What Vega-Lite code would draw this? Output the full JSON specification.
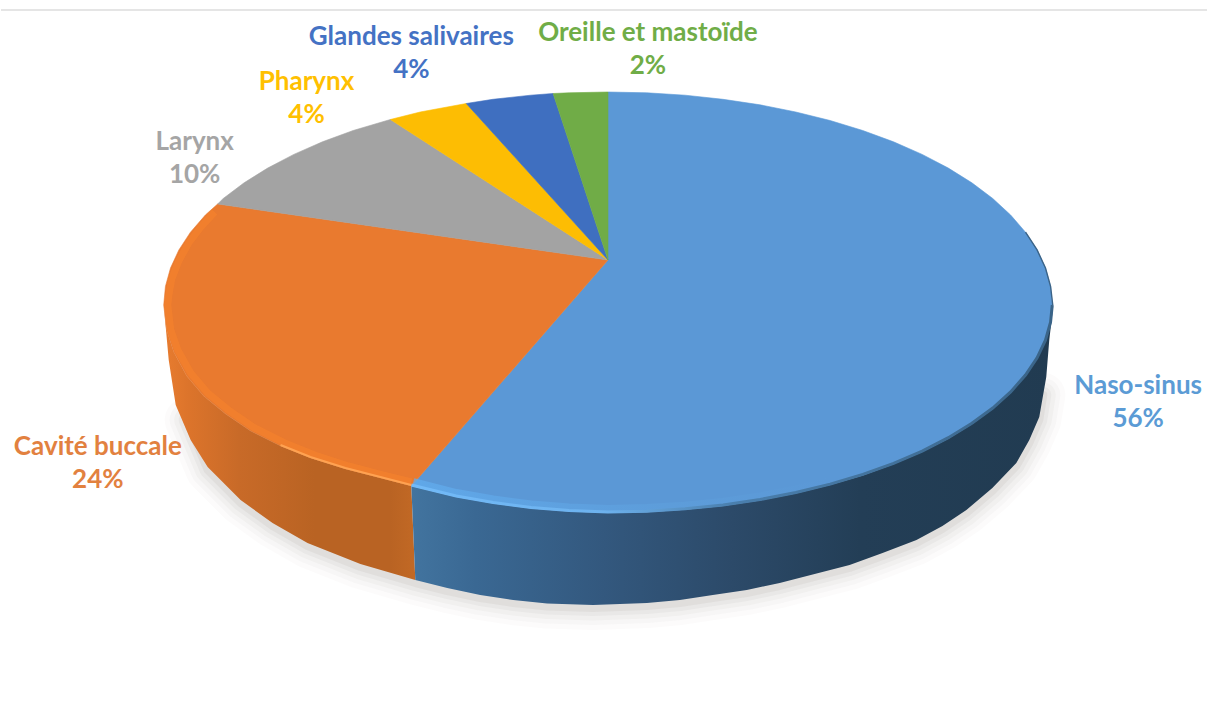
{
  "$schema": "https://vega.github.io/schema/vega-lite/v6.json",
  "width": 1208,
  "height": 706,
  "autosize": {"type": "fit", "contains": "padding"},
  "padding": 0,
  "background": "#ffffff",
  "view": {"stroke": null},
  "datasets": {
    "topFaces": [
      {"slice":"Naso-sinus","x":608,"y":260},{"slice":"Naso-sinus","x":608,"y":92},{"slice":"Naso-sinus","x":646.8,"y":92.8},{"slice":"Naso-sinus","x":685.3,"y":95.2},{"slice":"Naso-sinus","x":723.2,"y":99.3},{"slice":"Naso-sinus","x":760.2,"y":104.8},{"slice":"Naso-sinus","x":796.1,"y":112},{"slice":"Naso-sinus","x":830.5,"y":120.5},{"slice":"Naso-sinus","x":863.2,"y":130.5},{"slice":"Naso-sinus","x":894,"y":141.8},{"slice":"Naso-sinus","x":922.7,"y":154.4},{"slice":"Naso-sinus","x":948.9,"y":168.1},{"slice":"Naso-sinus","x":972.5,"y":182.8},{"slice":"Naso-sinus","x":993.4,"y":198.5},{"slice":"Naso-sinus","x":1011.3,"y":215},{"slice":"Naso-sinus","x":1026.2,"y":232.2},{"slice":"Naso-sinus","x":1037.8,"y":249.9},{"slice":"Naso-sinus","x":1046.2,"y":268},{"slice":"Naso-sinus","x":1051.3,"y":286.4},{"slice":"Naso-sinus","x":1053,"y":305},{"slice":"Naso-sinus","x":1051.3,"y":323.1},{"slice":"Naso-sinus","x":1046.2,"y":341.1},{"slice":"Naso-sinus","x":1037.8,"y":358.8},{"slice":"Naso-sinus","x":1026.2,"y":376.1},{"slice":"Naso-sinus","x":1011.3,"y":392.9},{"slice":"Naso-sinus","x":993.4,"y":409},{"slice":"Naso-sinus","x":972.5,"y":424.3},{"slice":"Naso-sinus","x":948.9,"y":438.7},{"slice":"Naso-sinus","x":922.7,"y":452.1},{"slice":"Naso-sinus","x":894,"y":464.3},{"slice":"Naso-sinus","x":863.2,"y":475.4},{"slice":"Naso-sinus","x":830.5,"y":485.1},{"slice":"Naso-sinus","x":796.1,"y":493.5},{"slice":"Naso-sinus","x":760.2,"y":500.5},{"slice":"Naso-sinus","x":723.2,"y":505.9},{"slice":"Naso-sinus","x":685.3,"y":509.8},{"slice":"Naso-sinus","x":646.8,"y":512.2},{"slice":"Naso-sinus","x":608,"y":513},{"slice":"Naso-sinus","x":569,"y":511.5},{"slice":"Naso-sinus","x":531,"y":508.5},{"slice":"Naso-sinus","x":493,"y":503.5},{"slice":"Naso-sinus","x":456,"y":497},{"slice":"Naso-sinus","x":411,"y":486},{"slice":"Naso-sinus","x":608,"y":260},
      {"slice":"Cavité buccale","x":608,"y":260},{"slice":"Cavité buccale","x":411,"y":486},{"slice":"Cavité buccale","x":380,"y":478},{"slice":"Cavité buccale","x":345,"y":469},{"slice":"Cavité buccale","x":310,"y":458},{"slice":"Cavité buccale","x":280,"y":446},{"slice":"Cavité buccale","x":250,"y":431},{"slice":"Cavité buccale","x":225,"y":414},{"slice":"Cavité buccale","x":203,"y":396},{"slice":"Cavité buccale","x":186,"y":376},{"slice":"Cavité buccale","x":173,"y":352},{"slice":"Cavité buccale","x":166,"y":330},{"slice":"Cavité buccale","x":163,"y":305},{"slice":"Cavité buccale","x":164.7,"y":286.4},{"slice":"Cavité buccale","x":169.8,"y":268},{"slice":"Cavité buccale","x":178.2,"y":249.9},{"slice":"Cavité buccale","x":189.8,"y":232.2},{"slice":"Cavité buccale","x":204.7,"y":215},{"slice":"Cavité buccale","x":217,"y":204},{"slice":"Cavité buccale","x":608,"y":260},
      {"slice":"Larynx","x":608,"y":260},{"slice":"Larynx","x":217,"y":204},{"slice":"Larynx","x":222.6,"y":198.5},{"slice":"Larynx","x":243.5,"y":182.8},{"slice":"Larynx","x":267.1,"y":168.1},{"slice":"Larynx","x":293.3,"y":154.4},{"slice":"Larynx","x":322,"y":141.8},{"slice":"Larynx","x":352.8,"y":130.5},{"slice":"Larynx","x":390,"y":119.5},{"slice":"Larynx","x":608,"y":260},
      {"slice":"Pharynx","x":608,"y":260},{"slice":"Pharynx","x":390,"y":119.5},{"slice":"Pharynx","x":419.9,"y":112},{"slice":"Pharynx","x":466,"y":103.5},{"slice":"Pharynx","x":608,"y":260},
      {"slice":"Glandes salivaires","x":608,"y":260},{"slice":"Glandes salivaires","x":466,"y":103.5},{"slice":"Glandes salivaires","x":492.8,"y":99.3},{"slice":"Glandes salivaires","x":530.7,"y":95.2},{"slice":"Glandes salivaires","x":553,"y":93.5},{"slice":"Glandes salivaires","x":608,"y":260},
      {"slice":"Oreille et mastoïde","x":608,"y":260},{"slice":"Oreille et mastoïde","x":553,"y":93.5},{"slice":"Oreille et mastoïde","x":569.2,"y":92.8},{"slice":"Oreille et mastoïde","x":608,"y":92},{"slice":"Oreille et mastoïde","x":608,"y":260}
    ],
    "blueWall": [
      {"x":411,"y":486},{"x":456,"y":497},{"x":493,"y":503.5},{"x":531,"y":508.5},{"x":569,"y":511.5},{"x":608,"y":513},{"x":646.8,"y":512.2},{"x":685.3,"y":509.8},{"x":723.2,"y":505.9},{"x":760.2,"y":500.5},{"x":796.1,"y":493.5},{"x":830.5,"y":485.1},{"x":863.2,"y":475.4},{"x":894,"y":464.3},{"x":922.7,"y":452.1},{"x":948.9,"y":438.7},{"x":972.5,"y":424.3},{"x":993.4,"y":409},{"x":1011.3,"y":392.9},{"x":1026.2,"y":376.1},{"x":1037.8,"y":358.8},{"x":1046.2,"y":341.1},{"x":1051.3,"y":323.1},{"x":1054,"y":306},
      {"x":1050,"y":340},{"x":1047,"y":377},{"x":1040,"y":417},{"x":1030,"y":440},{"x":1017,"y":463},{"x":993,"y":488},{"x":967,"y":510},{"x":943,"y":526},{"x":917,"y":540},{"x":883,"y":553},{"x":850,"y":565},{"x":815,"y":574},{"x":780,"y":583},{"x":747,"y":590},{"x":713,"y":595},{"x":680,"y":600},{"x":647,"y":603},{"x":593,"y":605},{"x":547,"y":603.5},{"x":513,"y":600},{"x":480,"y":595},{"x":447,"y":588},{"x":415,"y":580},{"x":411,"y":486}
    ],
    "orangeWall": [
      {"x":163,"y":305},{"x":166,"y":330},{"x":173,"y":352},{"x":186,"y":376},{"x":203,"y":396},{"x":225,"y":414},{"x":250,"y":431},{"x":280,"y":446},{"x":310,"y":458},{"x":345,"y":469},{"x":380,"y":478},{"x":411,"y":486},
      {"x":415,"y":580},{"x":360,"y":564},{"x":307,"y":543},{"x":272,"y":523},{"x":240,"y":500},{"x":207,"y":467},{"x":190,"y":440},{"x":175,"y":405},{"x":168,"y":360},{"x":163,"y":305}
    ],
    "groundEdge": [
      {"x":186,"y":420},{"x":207,"y":470},{"x":240,"y":503},{"x":272,"y":526},{"x":307,"y":546},{"x":360,"y":567},{"x":415,"y":583},{"x":447,"y":591},{"x":480,"y":598},{"x":513,"y":603},{"x":547,"y":606.5},{"x":593,"y":608},{"x":647,"y":606},{"x":680,"y":603},{"x":713,"y":598},{"x":747,"y":593},{"x":780,"y":586},{"x":815,"y":577},{"x":850,"y":568},{"x":883,"y":556},{"x":917,"y":543},{"x":943,"y":529},{"x":967,"y":513},{"x":993,"y":491},{"x":1017,"y":466},{"x":1030,"y":443},{"x":1040,"y":420},{"x":1044,"y":395}
    ],
    "orangeBevel": [
      {"x":214,"y":212},{"x":201,"y":226},{"x":188,"y":243},{"x":178,"y":261},{"x":171,"y":279},{"x":168,"y":296},{"x":167,"y":305},{"x":170,"y":330},{"x":177,"y":350},{"x":190,"y":373},{"x":207,"y":393},{"x":229,"y":411},{"x":254,"y":428},{"x":284,"y":443},{"x":314,"y":455},{"x":348,"y":466},{"x":382,"y":475},{"x":411,"y":482}
    ],
    "blueBevel": [
      {"x":413,"y":482},{"x":456,"y":493},{"x":493,"y":499.5},{"x":531,"y":504.5},{"x":569,"y":507.5},{"x":608,"y":509},{"x":647,"y":508},{"x":685,"y":505.8},{"x":723,"y":502},{"x":760,"y":496.5},{"x":796,"y":489.5},{"x":830,"y":481}
    ],
    "orangeGlint": [
      {"x":280,"y":445},{"x":310,"y":457},{"x":345,"y":468},{"x":380,"y":477},{"x":411,"y":485}
    ],
    "blueGlint": [
      {"x":411,"y":485},{"x":456,"y":496},{"x":493,"y":502.5},{"x":531,"y":507.5},{"x":569,"y":510.5},{"x":608,"y":512},{"x":646.8,"y":511.2},{"x":685.3,"y":508.8},{"x":723.2,"y":504.9},{"x":760.2,"y":499.5},{"x":796.1,"y":492.5},{"x":830.5,"y":484.1},{"x":863.2,"y":474.4},{"x":894,"y":463.3},{"x":922.7,"y":451.1},{"x":948.9,"y":437.7},{"x":972.5,"y":423.3},{"x":993.4,"y":408},{"x":1011.3,"y":391.9},{"x":1026.2,"y":375.1},{"x":1037.8,"y":357.8},{"x":1046.2,"y":340.1},{"x":1051.3,"y":322.1},{"x":1053,"y":305}
    ],
    "outerEdge": [
      {"x":1026.2,"y":232.2},{"x":1037.8,"y":249.9},{"x":1046.2,"y":268},{"x":1051.3,"y":286.4},{"x":1053.5,"y":305}
    ],
    "labels": [
      {"slice":"Naso-sinus","share":56,"label":"Naso-sinus\n56%","x":1139,"y":386},
      {"slice":"Cavité buccale","share":24,"label":"Cavité buccale\n24%","x":97,"y":447},
      {"slice":"Larynx","share":10,"label":"Larynx\n10%","x":194,"y":142},
      {"slice":"Pharynx","share":4,"label":"Pharynx\n4%","x":306,"y":82},
      {"slice":"Glandes salivaires","share":4,"label":"Glandes salivaires\n4%","x":411,"y":37},
      {"slice":"Oreille et mastoïde","share":2,"label":"Oreille et mastoïde\n2%","x":648,"y":33}
    ],
    "frame": [{"x":0,"x2":1208,"y":10}]
  },
  "encoding": {
    "x": {"field": "x", "type": "quantitative", "axis": null, "scale": {"domain": [0, 1208], "nice": false, "zero": false}},
    "y": {"field": "y", "type": "quantitative", "axis": null, "scale": {"domain": [706, 0], "nice": false, "zero": false}}
  },
  "layer": [
    {"data": {"name": "frame"}, "mark": {"type": "rule", "color": "#dcdcdc", "strokeWidth": 1.5}, "encoding": {"x2": {"field": "x2"}}},

    {"data": {"name": "groundEdge"}, "transform": [{"window": [{"op": "row_number", "as": "n"}]}], "mark": {"type": "line", "stroke": "#6b6259", "strokeOpacity": 0.025, "strokeWidth": 44, "strokeCap": "round", "strokeJoin": "round"}, "encoding": {"order": {"field": "n"}}},
    {"data": {"name": "groundEdge"}, "transform": [{"window": [{"op": "row_number", "as": "n"}]}], "mark": {"type": "line", "stroke": "#6b6259", "strokeOpacity": 0.03, "strokeWidth": 34, "strokeCap": "round", "strokeJoin": "round"}, "encoding": {"order": {"field": "n"}}},
    {"data": {"name": "groundEdge"}, "transform": [{"window": [{"op": "row_number", "as": "n"}]}], "mark": {"type": "line", "stroke": "#6b6259", "strokeOpacity": 0.04, "strokeWidth": 25, "strokeCap": "round", "strokeJoin": "round"}, "encoding": {"order": {"field": "n"}}},
    {"data": {"name": "groundEdge"}, "transform": [{"window": [{"op": "row_number", "as": "n"}]}], "mark": {"type": "line", "stroke": "#6b6259", "strokeOpacity": 0.05, "strokeWidth": 16, "strokeCap": "round", "strokeJoin": "round"}, "encoding": {"order": {"field": "n"}}},
    {"data": {"name": "groundEdge"}, "transform": [{"window": [{"op": "row_number", "as": "n"}]}], "mark": {"type": "line", "stroke": "#6b6259", "strokeOpacity": 0.07, "strokeWidth": 8, "strokeCap": "round", "strokeJoin": "round"}, "encoding": {"order": {"field": "n"}}},

    {
      "data": {"name": "topFaces"},
      "transform": [{"window": [{"op": "row_number", "as": "n"}]}],
      "mark": {"type": "line", "strokeWidth": 0.6, "strokeJoin": "round"},
      "encoding": {
        "order": {"field": "n"},
        "fill": {"field": "slice", "type": "nominal", "legend": null, "scale": {"domain": ["Naso-sinus", "Cavité buccale", "Larynx", "Pharynx", "Glandes salivaires", "Oreille et mastoïde"], "range": ["#5b98d6", "#e97a2f", "#a3a3a3", "#fdbd03", "#3f6fc0", "#70ac47"]}},
        "stroke": {"field": "slice", "type": "nominal", "legend": null, "scale": {"domain": ["Naso-sinus", "Cavité buccale", "Larynx", "Pharynx", "Glandes salivaires", "Oreille et mastoïde"], "range": ["#5b98d6", "#e97a2f", "#a3a3a3", "#fdbd03", "#3f6fc0", "#70ac47"]}}
      }
    },

    {"data": {"name": "orangeBevel"}, "transform": [{"window": [{"op": "row_number", "as": "n"}]}], "mark": {"type": "line", "stroke": "#f6822c", "strokeOpacity": 0.65, "strokeWidth": 7, "strokeCap": "butt"}, "encoding": {"order": {"field": "n"}}},
    {"data": {"name": "blueBevel"}, "transform": [{"window": [{"op": "row_number", "as": "n"}]}], "mark": {"type": "line", "strokeOpacity": 0.7, "strokeWidth": 8, "strokeCap": "butt", "stroke": {"x1": 0, "y1": 0, "x2": 1, "y2": 0, "gradient": "linear", "stops": [{"offset": 0, "color": "#62aef0"}, {"offset": 0.6, "color": "#5e9fdc"}, {"offset": 1, "color": "#5b98d6"}]}}, "encoding": {"order": {"field": "n"}}},

    {"data": {"name": "orangeWall"}, "transform": [{"window": [{"op": "row_number", "as": "n"}]}], "mark": {"type": "line", "strokeWidth": 0, "fill": {"x1": 0, "y1": 0, "x2": 1, "y2": 0, "gradient": "linear", "stops": [{"offset": 0, "color": "#e87c2f"}, {"offset": 0.1, "color": "#dc742b"}, {"offset": 0.3, "color": "#c86a28"}, {"offset": 0.6, "color": "#b96323"}, {"offset": 0.9, "color": "#b96323"}, {"offset": 1, "color": "#c26925"}]}}, "encoding": {"order": {"field": "n"}}},
    {"data": {"name": "blueWall"}, "transform": [{"window": [{"op": "row_number", "as": "n"}]}], "mark": {"type": "line", "strokeWidth": 0, "fill": {"x1": 0, "y1": 0, "x2": 1, "y2": 0, "gradient": "linear", "stops": [{"offset": 0, "color": "#42749f"}, {"offset": 0.1, "color": "#3a6893"}, {"offset": 0.3, "color": "#33587e"}, {"offset": 0.5, "color": "#2c4a69"}, {"offset": 0.7, "color": "#233e56"}, {"offset": 1, "color": "#213b51"}]}}, "encoding": {"order": {"field": "n"}}},

    {"data": {"name": "blueGlint"}, "transform": [{"window": [{"op": "row_number", "as": "n"}]}], "mark": {"type": "line", "strokeWidth": 3, "strokeCap": "butt", "stroke": {"x1": 0, "y1": 0, "x2": 1, "y2": 0, "gradient": "linear", "stops": [{"offset": 0, "color": "#72baf8"}, {"offset": 0.3, "color": "#6db2ee"}, {"offset": 0.5, "color": "#4a7fae"}, {"offset": 1, "color": "#3a6488"}]}}, "encoding": {"order": {"field": "n"}}},
    {"data": {"name": "orangeGlint"}, "transform": [{"window": [{"op": "row_number", "as": "n"}]}], "mark": {"type": "line", "strokeWidth": 2.2, "strokeCap": "butt", "stroke": "#ffa251"}, "encoding": {"order": {"field": "n"}}},
    {"data": {"name": "outerEdge"}, "transform": [{"window": [{"op": "row_number", "as": "n"}]}], "mark": {"type": "line", "strokeWidth": 1.4, "stroke": "#3b6387"}, "encoding": {"order": {"field": "n"}}},

    {
      "data": {"name": "labels"},
      "mark": {"type": "text", "font": "Lato", "fontWeight": "bold", "fontSize": 26, "lineBreak": "\n", "lineHeight": 33, "align": "center", "baseline": "middle"},
      "encoding": {
        "text": {"field": "label", "type": "nominal"},
        "color": {"field": "slice", "type": "nominal", "legend": null, "scale": {"domain": ["Naso-sinus", "Cavité buccale", "Larynx", "Pharynx", "Glandes salivaires", "Oreille et mastoïde"], "range": ["#5b9bd5", "#e2813f", "#a5a5a5", "#ffc000", "#4472c4", "#70ad47"]}}
      }
    }
  ],
  "resolve": {"scale": {"fill": "independent", "stroke": "independent", "color": "independent"}}
}
